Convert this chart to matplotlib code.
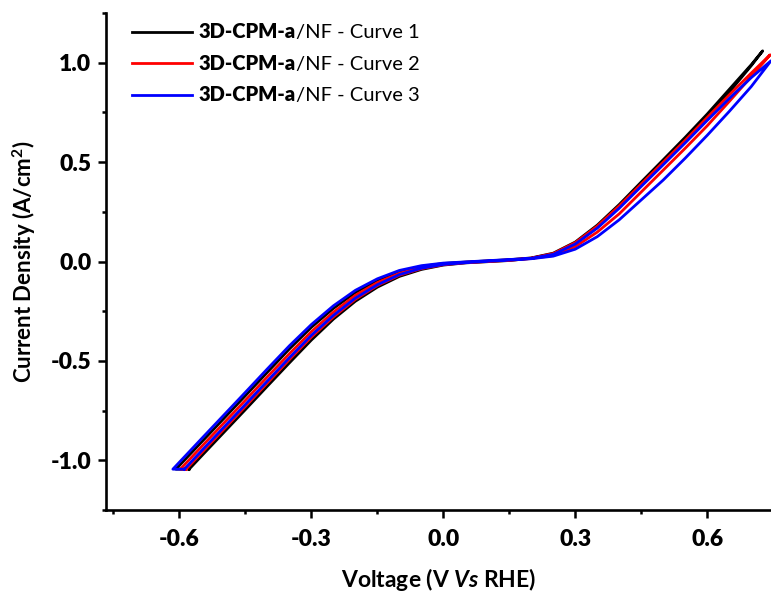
import matplotlib
matplotlib.use("Agg")
import matplotlib.pyplot as plt
from matplotlib.ticker import MultipleLocator, FormatStrFormatter
from matplotlib.offsetbox import AnchoredOffsetbox, HPacker, VPacker, TextArea, DrawingArea
from matplotlib.lines import Line2D

plt.rcParams['font.family'] = ['Lato', 'DejaVu Sans']
plt.rcParams['axes.unicode_minus'] = False
plt.rcParams['mathtext.fontset'] = 'custom'
plt.rcParams['mathtext.rm'] = 'Lato'
plt.rcParams['mathtext.bf'] = 'Lato:bold'
plt.rcParams['mathtext.it'] = 'Lato:italic'
plt.rcParams['mathtext.bfit'] = 'Lato:italic:bold'

# shared voltage grid (V vs RHE)
voltage = [-0.55, -0.50, -0.45, -0.40, -0.35, -0.30, -0.25, -0.20, -0.15, -0.10, -0.05,
           0.00, 0.05, 0.10, 0.15, 0.20, 0.25, 0.30, 0.35, 0.40, 0.45, 0.50, 0.55,
           0.60, 0.65, 0.70]
j_limit = -1.045  # current is clipped at the bottom

# curve 1 (black)
c1_fwd = [-0.979, -0.862, -0.745, -0.627, -0.510, -0.395, -0.290, -0.200, -0.129, -0.075, -0.040,
          -0.018, -0.007, -0.001, 0.005, 0.016, 0.037, 0.090, 0.172, 0.275, 0.388, 0.498, 0.610,
          0.727, 0.852, 0.985]
c1_rev = [-0.909, -0.792, -0.675, -0.557, -0.440, -0.331, -0.236, -0.156, -0.095, -0.051, -0.025,
          -0.010, -0.003, 0.003, 0.009, 0.018, 0.042, 0.098, 0.183, 0.287, 0.400, 0.512, 0.625,
          0.742, 0.866, 0.990]
c1_vertex = (0.726, 1.060)
c1_bottom = (-0.578, -0.608)

# curve 2 (red)
c2_fwd = [-0.963, -0.846, -0.729, -0.611, -0.493, -0.380, -0.279, -0.190, -0.121, -0.069, -0.036,
          -0.016, -0.006, 0.000, 0.006, 0.015, 0.030, 0.075, 0.148, 0.240, 0.350, 0.460, 0.570,
          0.683, 0.805, 0.930]
c2_rev = [-0.932, -0.815, -0.698, -0.580, -0.464, -0.353, -0.255, -0.170, -0.106, -0.059, -0.030,
          -0.013, -0.004, 0.002, 0.008, 0.017, 0.040, 0.095, 0.178, 0.280, 0.390, 0.500, 0.610,
          0.725, 0.838, 0.948]
c2_vertex = (0.743, 1.040)
c2_bottom = (-0.585, -0.598)

# curve 3 (blue)
c3_fwd = [-0.953, -0.836, -0.719, -0.601, -0.484, -0.371, -0.271, -0.184, -0.117, -0.066, -0.034,
          -0.015, -0.006, 0.001, 0.007, 0.014, 0.027, 0.062, 0.125, 0.210, 0.310, 0.410, 0.520,
          0.635, 0.755, 0.880]
c3_rev = [-0.892, -0.775, -0.658, -0.540, -0.424, -0.317, -0.223, -0.145, -0.087, -0.045, -0.021,
          -0.008, -0.002, 0.004, 0.010, 0.016, 0.036, 0.088, 0.168, 0.268, 0.378, 0.487, 0.597,
          0.710, 0.820, 0.925]
c3_vertex = (0.745, 1.010)
c3_bottom = (-0.589, -0.615)

curves = [
    (c1_fwd, c1_rev, c1_vertex, c1_bottom, 'black'),
    (c2_fwd, c2_rev, c2_vertex, c2_bottom, 'red'),
    (c3_fwd, c3_rev, c3_vertex, c3_bottom, 'blue'),
]
legend_names = ['Curve 1', 'Curve 2', 'Curve 3']

fig = plt.figure(figsize=(7.71, 5.95), dpi=100)
ax = fig.add_axes([0.1375, 0.143, 0.8625, 0.835])

for fwd, rev, vtx, bot, color in curves:
    # one closed loop: bottom -> up (forward) -> vertex -> down (reverse) -> bottom
    v = [bot[0]] + voltage + [vtx[0]] + voltage[::-1] + [bot[1], bot[0]]
    j = [j_limit] + fwd + [vtx[1]] + rev[::-1] + [j_limit, j_limit]
    ax.plot(v, j, color=color, lw=2.0, solid_joinstyle='round')

ax.set_xlim(-0.767, 0.745)
ax.set_ylim(-1.25, 1.25)
ax.xaxis.set_major_locator(MultipleLocator(0.3))
ax.xaxis.set_minor_locator(MultipleLocator(0.15))
ax.yaxis.set_major_locator(MultipleLocator(0.5))
ax.yaxis.set_minor_locator(MultipleLocator(0.25))
ax.xaxis.set_major_formatter(FormatStrFormatter('%.1f'))
ax.yaxis.set_major_formatter(FormatStrFormatter('%.1f'))

for side in ['top', 'right']:
    ax.spines[side].set_visible(False)
for side in ['left', 'bottom']:
    ax.spines[side].set_linewidth(1.9)

ax.tick_params(which='major', direction='out', length=5.5, width=1.8, labelsize=16.5, pad=5)
ax.tick_params(axis='x', which='major', pad=8)
ax.tick_params(which='minor', direction='out', length=3, width=1.8)
for lab in ax.get_xticklabels() + ax.get_yticklabels():
    lab.set_fontweight('heavy')

ax.set_xlabel(r'Voltage (V $\mathbfit{Vs}$ RHE)', fontsize=16.5, fontweight='bold', labelpad=12)
ax.set_ylabel(r'Current Density (A/cm$^{\mathbf{2}}$)', fontsize=16, fontweight='bold', labelpad=9)

# legend with a bold sample name and regular suffix
rows = []
for (fwd, rev, vtx, bot, color), name in zip(curves, legend_names):
    da = DrawingArea(43, 10, 0, 0)
    da.add_artist(Line2D([0, 43], [5, 5], color=color, lw=2.0))
    txt = HPacker(children=[
        TextArea('3D-CPM-a', textprops=dict(fontsize=14.5, fontweight='heavy')),
        TextArea('/NF - ' + name, textprops=dict(fontsize=14.5)),
    ], sep=0, pad=0, align='baseline')
    rows.append(HPacker(children=[da, txt], sep=5, pad=0, align='center'))
leg = AnchoredOffsetbox(loc='upper left', child=VPacker(children=rows, sep=9, pad=0, align='left'),
                        pad=0, borderpad=0, frameon=False,
                        bbox_to_anchor=(0.039, 0.982), bbox_transform=ax.transAxes)
ax.add_artist(leg)

fig.savefig('out.png', dpi=100)
